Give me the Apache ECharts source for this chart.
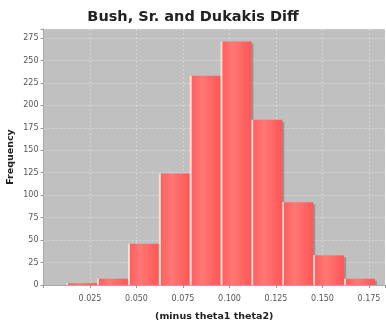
<!DOCTYPE html>
<html>
<head>
<meta charset="utf-8">
<script src="https://cdn.jsdelivr.net/npm/echarts@6/dist/echarts.min.js"></script>
<style>html,body{margin:0;padding:0;background:#fff}#c{width:386px;height:321px}</style>
</head>
<body>
<div id="c"></div>
<script>
// Histogram bin edges (x values) and counts
var binEdges = [0.0122, 0.0288, 0.0454, 0.0620, 0.0786, 0.0952, 0.1118, 0.1284, 0.1450, 0.1616, 0.1782];
var counts = [2, 7, 46, 124, 233, 271, 184, 92, 33, 7];
var xTickStep = 0.025;
var yTicks = [0, 25, 50, 75, 100, 125, 150, 175, 200, 225, 250, 275];

var data = counts.map(function (c, i) { return [binEdges[i], binEdges[i + 1], c]; });

var chart = echarts.init(document.getElementById('c'), null, { renderer: 'canvas' });
var labelFont = 'DejaVu Sans';
chart.setOption({
  animation: false,
  backgroundColor: '#ffffff',
  title: {
    text: 'Bush, Sr. and Dukakis Diff',
    left: 'center',
    top: 5,
    textStyle: { fontFamily: labelFont, fontWeight: 'bold', fontSize: 14.5, color: '#222' }
  },
  grid: {
    left: 43.5, right: 1, top: 29, bottom: 36,
    containLabel: false, outerBoundsMode: 'none',
    show: true, backgroundColor: '#c0c0c0', borderWidth: 0
  },
  xAxis: {
    type: 'value', min: 0, max: 0.1836, interval: xTickStep,
    axisLine: { show: true, onZero: false, lineStyle: { color: '#aaa' } },
    axisTick: { show: true, length: 3, lineStyle: { color: '#999' } },
    axisLabel: {
      fontFamily: labelFont, fontSize: 8, color: '#555', margin: 10,
      formatter: function (v) {
        var r = v / xTickStep;
        if (v < 0.001 || Math.abs(r - Math.round(r)) > 1e-6) return '';
        return v.toFixed(3);
      }
    },
    splitLine: { show: true, lineStyle: { color: '#ffffff', opacity: 0.35, type: [2, 2], width: 1 } },
    name: '(minus theta1 theta2)', nameLocation: 'middle', nameGap: 27,
    nameTextStyle: { fontFamily: labelFont, fontWeight: 'bold', fontSize: 9.5, color: '#222' }
  },
  yAxis: {
    type: 'value', min: 0, max: 285, interval: 25,
    axisLine: { show: true, lineStyle: { color: '#aaa' } },
    axisTick: { show: true, length: 3, lineStyle: { color: '#999' } },
    axisLabel: {
      fontFamily: labelFont, fontSize: 8, color: '#555', margin: 5,
      formatter: function (v) { return yTicks.indexOf(v) >= 0 ? String(v) : ''; }
    },
    splitLine: { show: true, lineStyle: { color: '#ffffff', opacity: 0.35, type: [2, 2], width: 1 } },
    name: 'Frequency', nameLocation: 'middle', nameGap: 28, nameRotate: 90, nameMoveOverlap: false,
    nameTextStyle: { fontFamily: labelFont, fontWeight: 'bold', fontSize: 9.5, color: '#222' }
  },
  series: [{
    type: 'custom',
    data: data,
    clip: true,
    renderItem: function (params, api) {
      var p0 = api.coord([api.value(0), 0]);
      var p1 = api.coord([api.value(1), api.value(2)]);
      var x = p0[0], y = p1[1], w = p1[0] - p0[0], h = p0[1] - p1[1];
      var s = 2;
      return {
        type: 'group',
        children: [
          { type: 'rect', shape: { x: x + s, y: y + s, width: w, height: Math.max(h - s, 0) },
            style: { fill: 'rgba(70,70,70,0.35)' } },
          { type: 'rect', shape: { x: x, y: y, width: w, height: h },
            style: {
              fill: new echarts.graphic.LinearGradient(0, 0, 1, 0, [
                { offset: 0, color: '#ffe0d6' },
                { offset: 0.055, color: '#ffd2c8' },
                { offset: 0.07, color: '#ff6060' },
                { offset: 0.4, color: '#ff7874' },
                { offset: 1, color: '#ff5656' }
              ])
            } }
        ]
      };
    }
  }]
});
</script>
</body>
</html>
